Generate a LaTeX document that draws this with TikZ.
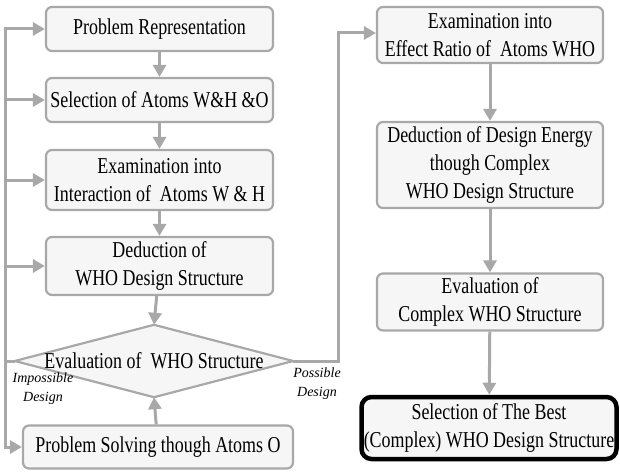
\documentclass[tikz,border=0pt]{standalone}
\usepackage{fontspec}
\setmainfont[FakeStretch=0.79]{Liberation Serif}
\newfontfamily\notefont{Liberation Serif}
\usetikzlibrary{arrows.meta, positioning}
\definecolor{linegray}{HTML}{A8A8A8}
\definecolor{boxfill}{HTML}{F6F6F6}
\tikzset{
  stepbox/.style={draw=linegray, fill=boxfill, line width=2.2pt, rounded corners=6pt,
    align=center, inner sep=1pt, font=\fontsize{22.7}{28}\selectfont},
  bestbox/.style={stepbox, draw=black, line width=4.5pt, rounded corners=10pt},
  flow/.style={draw=linegray, line width=3pt, -{Triangle[width=13pt,length=12pt]}},
  link/.style={draw=linegray, line width=3pt},
  note/.style={font=\notefont\itshape\fontsize{14}{19}\selectfont, align=center}
}
\begin{document}
\begin{tikzpicture}[x=1pt, y=-1pt]
            \useasboundingbox (0,0) rectangle (620,473);
            % left column
            \node[stepbox, minimum width=227pt, minimum height=44pt] (rep) at (159.5,29) {Problem Representation};
            \node[stepbox, minimum width=227pt, minimum height=44pt] (sel) at (159.5,100) {Selection of Atoms W\&H \&O};
            \node[stepbox, minimum width=227pt, minimum height=60pt] (inter) at (159.5,180) {Examination into\\Interaction of \ Atoms W \& H};
            \node[stepbox, minimum width=227pt, minimum height=58pt] (deduc) at (159.5,266) {Deduction of\\WHO Design Structure};
            \node[minimum width=278pt, minimum height=72pt, inner sep=0pt] (evalw) at (154,361) {};
            \draw[link, line width=2.2pt, fill=boxfill, line join=miter] (evalw.west) -- (evalw.north) -- (evalw.east) -- (evalw.south) -- cycle;
            \node[font=\fontsize{22.7}{28}\selectfont] at (evalw.center) {Evaluation of \ WHO Structure};
            \node[stepbox, minimum width=270pt, minimum height=43pt] (solve) at (158,447) {Problem Solving though Atoms O};
            % right column
            \node[stepbox, minimum width=226pt, minimum height=56pt] (ratio) at (490,35) {Examination into\\Effect Ratio of \ Atoms WHO};
            \node[stepbox, minimum width=226pt, minimum height=86pt] (energy) at (490,165) {Deduction of Design Energy\\though Complex\\WHO Design Structure};
            \node[stepbox, minimum width=226pt, minimum height=57pt] (evalc) at (490,302) {Evaluation of\\Complex WHO Structure};
            \node[bestbox, minimum width=255pt, minimum height=62pt] (best) at (489,428) {Selection of The Best\\(Complex) WHO Design Structure};
            % main flow
            \draw[flow] (rep) -- (sel);
            \draw[flow] (sel) -- (inter);
            \draw[flow] (inter) -- (deduc);
            \draw[flow] (deduc) -- (evalw.north);
            \draw[flow] (solve) -- (evalw.south);
            \draw[flow] (ratio) -- (energy);
            \draw[flow] (energy) -- (evalc);
            \draw[flow] (evalc) -- (best);
            % feedback lines
            \coordinate (lft) at (5,361);
            \coordinate (rgt) at (338,361);
            \draw[link] (evalw.west) -- (lft);
            \foreach \n in {rep, sel, inter, deduc, solve}
                \draw[flow] (lft) |- (\n.west);
            \draw[flow] (evalw.east) -- (rgt) |- ([yshift=2pt]ratio.west);
            \node[note] (imp) at (43,389) {Impossible\\Design};
            \node[note] (pos) at (317,384) {Possible\\Design};
        \end{tikzpicture}
\end{document}
